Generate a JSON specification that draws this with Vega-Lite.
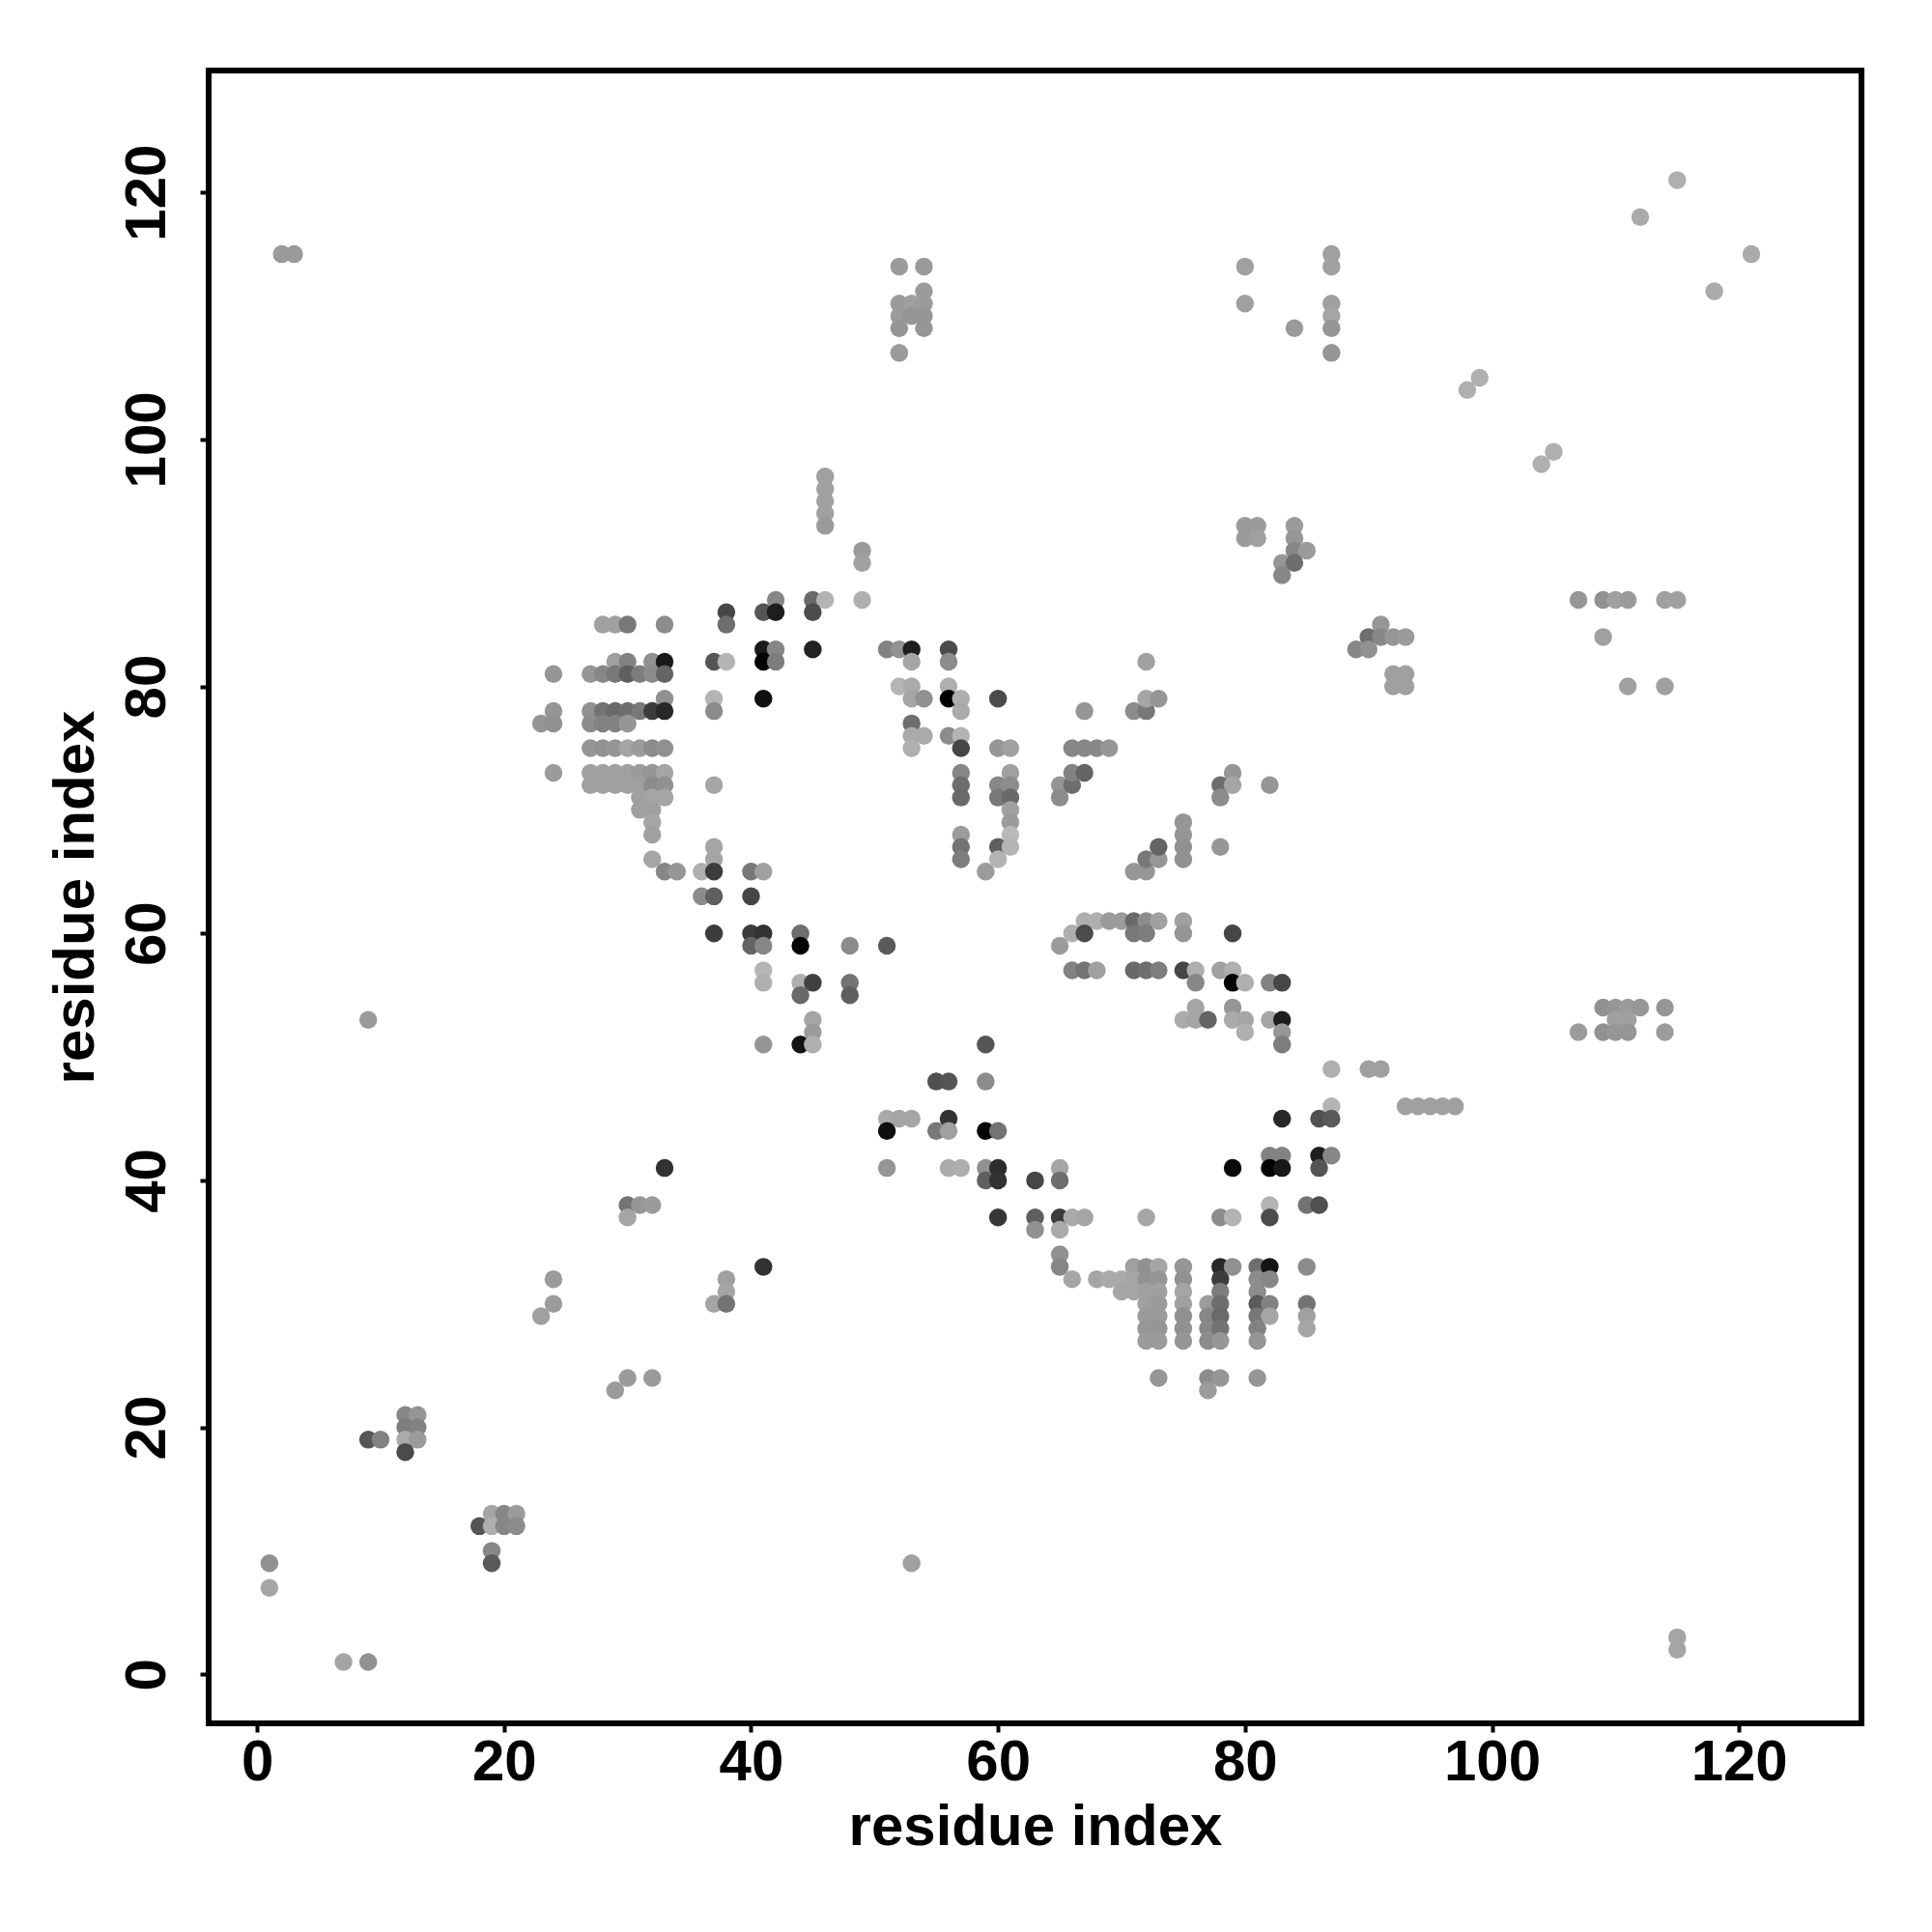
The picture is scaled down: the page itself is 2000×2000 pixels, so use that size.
{"$schema":"https://vega.github.io/schema/vega-lite/v6.json","width":1711,"height":1711,"autosize":"none","padding":{"left":216,"top":73,"right":73,"bottom":216},"background":"white","config":{"view":{"stroke":"black","strokeWidth":6,"fill":"white"}},
"data":{"values":[
{"x":1,"y":9,"s":145},{"x":1,"y":7,"s":165},{"x":7,"y":1,"s":165},{"x":9,"y":1,"s":145},{"x":9,"y":53,"s":155},{"x":2,"y":115,"s":155},{"x":3,"y":115,"s":155},{"x":53,"y":9,"s":160},{"x":115,"y":3,"s":165},{"x":115,"y":2,"s":165},
{"x":9,"y":19,"s":85},{"x":10,"y":19,"s":130},{"x":12,"y":21,"s":135},{"x":13,"y":21,"s":150},{"x":12,"y":20,"s":125},{"x":13,"y":20,"s":130},{"x":12,"y":19,"s":170},{"x":13,"y":19,"s":155},{"x":12,"y":18,"s":75},
{"x":19,"y":13,"s":165},{"x":20,"y":13,"s":135},{"x":21,"y":13,"s":155},{"x":18,"y":12,"s":85},{"x":19,"y":12,"s":175},{"x":20,"y":12,"s":135},{"x":21,"y":12,"s":140},{"x":19,"y":10,"s":135},{"x":19,"y":9,"s":90},
{"x":33,"y":41,"s":50},{"x":30,"y":38,"s":115},{"x":31,"y":38,"s":150},{"x":32,"y":38,"s":155},{"x":30,"y":37,"s":165},{"x":24,"y":32,"s":155},{"x":24,"y":30,"s":155},{"x":23,"y":29,"s":160},{"x":38,"y":32,"s":160},{"x":38,"y":31,"s":165},{"x":37,"y":30,"s":165},{"x":38,"y":30,"s":115},{"x":41,"y":33,"s":50},{"x":30,"y":24,"s":155},{"x":32,"y":24,"s":155},{"x":29,"y":23,"s":155},
{"x":42,"y":87,"s":135},{"x":45,"y":87,"s":105},{"x":46,"y":87,"s":180},{"x":49,"y":87,"s":175},{"x":38,"y":86,"s":70},{"x":41,"y":86,"s":85},{"x":42,"y":86,"s":30},{"x":45,"y":86,"s":75},
{"x":28,"y":85,"s":160},{"x":29,"y":85,"s":160},{"x":30,"y":85,"s":120},{"x":33,"y":85,"s":140},{"x":38,"y":85,"s":110},
{"x":41,"y":83,"s":25},{"x":42,"y":83,"s":135},{"x":45,"y":83,"s":35},{"x":51,"y":83,"s":130},{"x":52,"y":83,"s":145},{"x":53,"y":83,"s":30},{"x":56,"y":83,"s":75},
{"x":29,"y":82,"s":160},{"x":30,"y":82,"s":130},{"x":32,"y":82,"s":145},{"x":33,"y":82,"s":25},{"x":37,"y":82,"s":85},{"x":38,"y":82,"s":180},{"x":41,"y":82,"s":0},{"x":42,"y":82,"s":125},{"x":53,"y":82,"s":165},{"x":56,"y":82,"s":140},
{"x":24,"y":81,"s":150},{"x":27,"y":81,"s":150},{"x":28,"y":81,"s":135},{"x":29,"y":81,"s":120},{"x":30,"y":81,"s":95},{"x":31,"y":81,"s":125},{"x":32,"y":81,"s":140},{"x":33,"y":81,"s":100},
{"x":52,"y":80,"s":180},{"x":53,"y":80,"s":170},{"x":56,"y":80,"s":175},
{"x":33,"y":79,"s":145},{"x":37,"y":79,"s":180},{"x":41,"y":79,"s":15},{"x":53,"y":79,"s":165},{"x":54,"y":79,"s":145},{"x":56,"y":79,"s":0},{"x":57,"y":79,"s":175},{"x":60,"y":79,"s":75},
{"x":24,"y":78,"s":150},{"x":27,"y":78,"s":145},{"x":28,"y":78,"s":115},{"x":29,"y":78,"s":105},{"x":30,"y":78,"s":110},{"x":31,"y":78,"s":120},{"x":32,"y":78,"s":60},{"x":33,"y":78,"s":40},{"x":37,"y":78,"s":140},{"x":57,"y":78,"s":170},
{"x":23,"y":77,"s":150},{"x":24,"y":77,"s":145},{"x":27,"y":77,"s":140},{"x":28,"y":77,"s":130},{"x":29,"y":77,"s":130},{"x":30,"y":77,"s":150},{"x":53,"y":77,"s":110},
{"x":53,"y":76,"s":170},{"x":54,"y":76,"s":170},{"x":56,"y":76,"s":140},{"x":57,"y":76,"s":180},
{"x":27,"y":75,"s":150},{"x":28,"y":75,"s":145},{"x":29,"y":75,"s":150},{"x":30,"y":75,"s":165},{"x":31,"y":75,"s":155},{"x":32,"y":75,"s":140},{"x":33,"y":75,"s":145},{"x":53,"y":75,"s":175},{"x":57,"y":75,"s":70},{"x":60,"y":75,"s":150},{"x":61,"y":75,"s":160},
{"x":24,"y":73,"s":155},{"x":27,"y":73,"s":160},{"x":28,"y":73,"s":160},{"x":29,"y":73,"s":160},{"x":30,"y":73,"s":160},{"x":31,"y":73,"s":155},{"x":32,"y":73,"s":150},{"x":33,"y":73,"s":165},{"x":57,"y":73,"s":135},{"x":61,"y":73,"s":160},
{"x":27,"y":72,"s":160},{"x":28,"y":72,"s":160},{"x":29,"y":72,"s":160},{"x":30,"y":72,"s":160},{"x":31,"y":72,"s":160},{"x":32,"y":72,"s":140},{"x":33,"y":72,"s":145},{"x":37,"y":72,"s":165},{"x":57,"y":72,"s":110},{"x":60,"y":72,"s":135},{"x":61,"y":72,"s":140},{"x":65,"y":72,"s":150},
{"x":31,"y":71,"s":160},{"x":32,"y":71,"s":165},{"x":33,"y":71,"s":165},{"x":57,"y":71,"s":105},{"x":60,"y":71,"s":120},{"x":61,"y":71,"s":105},{"x":65,"y":71,"s":140},
{"x":31,"y":70,"s":160},{"x":32,"y":70,"s":160},{"x":61,"y":70,"s":160},{"x":32,"y":69,"s":165},{"x":61,"y":69,"s":155},{"x":32,"y":68,"s":160},{"x":57,"y":68,"s":155},{"x":61,"y":68,"s":185},
{"x":37,"y":67,"s":165},{"x":57,"y":67,"s":115},{"x":60,"y":67,"s":95},{"x":61,"y":67,"s":180},{"x":32,"y":66,"s":165},{"x":37,"y":66,"s":165},{"x":57,"y":66,"s":125},{"x":60,"y":66,"s":180},
{"x":33,"y":65,"s":135},{"x":34,"y":65,"s":150},{"x":36,"y":65,"s":175},{"x":37,"y":65,"s":60},{"x":40,"y":65,"s":120},{"x":41,"y":65,"s":160},{"x":59,"y":65,"s":155},
{"x":36,"y":63,"s":140},{"x":37,"y":63,"s":95},{"x":40,"y":63,"s":70},
{"x":37,"y":60,"s":60},{"x":40,"y":60,"s":60},{"x":41,"y":60,"s":50},{"x":44,"y":60,"s":110},
{"x":40,"y":59,"s":100},{"x":41,"y":59,"s":135},{"x":44,"y":59,"s":5},{"x":48,"y":59,"s":140},{"x":51,"y":59,"s":90},{"x":65,"y":59,"s":155},
{"x":41,"y":57,"s":180},{"x":41,"y":56,"s":175},{"x":44,"y":56,"s":175},{"x":45,"y":56,"s":65},{"x":48,"y":56,"s":115},{"x":44,"y":55,"s":105},{"x":48,"y":55,"s":95},
{"x":45,"y":53,"s":165},{"x":45,"y":52,"s":155},{"x":41,"y":51,"s":150},{"x":44,"y":51,"s":20},{"x":45,"y":51,"s":175},{"x":59,"y":51,"s":85},
{"x":67,"y":61,"s":175},{"x":68,"y":61,"s":175},{"x":69,"y":61,"s":155},{"x":70,"y":61,"s":155},{"x":71,"y":61,"s":105},{"x":72,"y":61,"s":140},{"x":73,"y":61,"s":160},{"x":75,"y":61,"s":160},
{"x":66,"y":60,"s":175},{"x":67,"y":60,"s":75},{"x":71,"y":60,"s":120},{"x":72,"y":60,"s":125},{"x":75,"y":60,"s":150},{"x":79,"y":60,"s":70},
{"x":66,"y":57,"s":130},{"x":67,"y":57,"s":115},{"x":68,"y":57,"s":160},{"x":71,"y":57,"s":105},{"x":72,"y":57,"s":110},{"x":73,"y":57,"s":125},{"x":75,"y":57,"s":70},{"x":76,"y":57,"s":175},{"x":78,"y":57,"s":160},{"x":79,"y":57,"s":175},
{"x":76,"y":56,"s":135},{"x":79,"y":56,"s":0},{"x":80,"y":56,"s":175},{"x":82,"y":56,"s":130},{"x":83,"y":56,"s":70},
{"x":76,"y":54,"s":165},{"x":79,"y":54,"s":150},{"x":75,"y":53,"s":170},{"x":76,"y":53,"s":165},{"x":77,"y":53,"s":100},{"x":79,"y":53,"s":170},{"x":80,"y":53,"s":165},{"x":82,"y":53,"s":165},{"x":83,"y":53,"s":30},
{"x":80,"y":52,"s":175},{"x":83,"y":52,"s":150},{"x":83,"y":51,"s":125},{"x":87,"y":49,"s":175},{"x":90,"y":49,"s":160},{"x":91,"y":49,"s":160},{"x":59,"y":48,"s":140},{"x":55,"y":48,"s":80},{"x":56,"y":48,"s":85},
{"x":87,"y":46,"s":180},{"x":93,"y":46,"s":160},{"x":94,"y":46,"s":160},{"x":95,"y":46,"s":160},{"x":96,"y":46,"s":160},{"x":97,"y":46,"s":160},
{"x":51,"y":45,"s":170},{"x":52,"y":45,"s":165},{"x":53,"y":45,"s":165},{"x":56,"y":45,"s":50},{"x":83,"y":45,"s":40},{"x":86,"y":45,"s":80},{"x":87,"y":45,"s":90},
{"x":51,"y":44,"s":15},{"x":55,"y":44,"s":120},{"x":56,"y":44,"s":160},{"x":59,"y":44,"s":5},{"x":60,"y":44,"s":115},
{"x":82,"y":42,"s":130},{"x":83,"y":42,"s":130},{"x":86,"y":42,"s":30},{"x":87,"y":42,"s":135},
{"x":51,"y":41,"s":150},{"x":56,"y":41,"s":170},{"x":57,"y":41,"s":175},{"x":59,"y":41,"s":145},{"x":60,"y":41,"s":45},{"x":65,"y":41,"s":165},{"x":79,"y":41,"s":10},{"x":82,"y":41,"s":0},{"x":83,"y":41,"s":25},{"x":86,"y":41,"s":85},
{"x":59,"y":40,"s":95},{"x":60,"y":40,"s":50},{"x":63,"y":40,"s":70},{"x":65,"y":40,"s":110},
{"x":82,"y":38,"s":180},{"x":85,"y":38,"s":115},{"x":86,"y":38,"s":80},
{"x":60,"y":37,"s":55},{"x":63,"y":37,"s":95},{"x":65,"y":37,"s":60},{"x":66,"y":37,"s":170},{"x":67,"y":37,"s":165},{"x":72,"y":37,"s":165},{"x":78,"y":37,"s":140},{"x":79,"y":37,"s":180},{"x":82,"y":37,"s":75},
{"x":63,"y":36,"s":145},{"x":65,"y":36,"s":170},{"x":65,"y":34,"s":145},
{"x":65,"y":33,"s":135},{"x":71,"y":33,"s":160},{"x":72,"y":33,"s":145},{"x":73,"y":33,"s":165},{"x":75,"y":33,"s":150},{"x":78,"y":33,"s":40},{"x":79,"y":33,"s":145},{"x":81,"y":33,"s":110},{"x":82,"y":33,"s":20},{"x":85,"y":33,"s":140},
{"x":66,"y":32,"s":165},{"x":68,"y":32,"s":165},{"x":69,"y":32,"s":170},{"x":70,"y":32,"s":170},{"x":71,"y":32,"s":165},{"x":72,"y":32,"s":145},{"x":73,"y":32,"s":150},{"x":75,"y":32,"s":145},{"x":78,"y":32,"s":60},{"x":81,"y":32,"s":140},{"x":82,"y":32,"s":135},
{"x":70,"y":31,"s":165},{"x":71,"y":31,"s":165},{"x":72,"y":31,"s":160},{"x":73,"y":31,"s":160},{"x":75,"y":31,"s":165},{"x":78,"y":31,"s":125},{"x":81,"y":31,"s":140},
{"x":72,"y":30,"s":160},{"x":73,"y":30,"s":155},{"x":75,"y":30,"s":160},{"x":77,"y":30,"s":155},{"x":78,"y":30,"s":110},{"x":81,"y":30,"s":90},{"x":82,"y":30,"s":130},{"x":85,"y":30,"s":115},
{"x":72,"y":29,"s":155},{"x":73,"y":29,"s":155},{"x":75,"y":29,"s":145},{"x":77,"y":29,"s":135},{"x":78,"y":29,"s":105},{"x":81,"y":29,"s":120},{"x":82,"y":29,"s":165},{"x":85,"y":29,"s":160},
{"x":72,"y":28,"s":150},{"x":73,"y":28,"s":150},{"x":75,"y":28,"s":145},{"x":77,"y":28,"s":135},{"x":78,"y":28,"s":115},{"x":81,"y":28,"s":130},{"x":85,"y":28,"s":165},
{"x":72,"y":27,"s":155},{"x":73,"y":27,"s":155},{"x":75,"y":27,"s":150},{"x":77,"y":27,"s":140},{"x":78,"y":27,"s":150},{"x":81,"y":27,"s":150},
{"x":73,"y":24,"s":150},{"x":77,"y":24,"s":140},{"x":78,"y":24,"s":150},{"x":81,"y":24,"s":150},{"x":77,"y":23,"s":155},
{"x":46,"y":97,"s":160},{"x":46,"y":96,"s":160},{"x":46,"y":95,"s":160},{"x":46,"y":94,"s":160},{"x":46,"y":93,"s":155},{"x":49,"y":91,"s":155},{"x":49,"y":90,"s":160},
{"x":52,"y":114,"s":155},{"x":54,"y":114,"s":155},{"x":54,"y":112,"s":155},{"x":52,"y":111,"s":155},{"x":53,"y":111,"s":160},{"x":54,"y":111,"s":155},{"x":52,"y":110,"s":155},{"x":53,"y":110,"s":150},{"x":54,"y":110,"s":150},{"x":52,"y":109,"s":150},{"x":54,"y":109,"s":150},{"x":52,"y":107,"s":155},
{"x":80,"y":114,"s":160},{"x":80,"y":111,"s":160},{"x":84,"y":109,"s":155},{"x":87,"y":115,"s":160},{"x":87,"y":114,"s":160},{"x":87,"y":111,"s":160},{"x":87,"y":110,"s":165},{"x":87,"y":109,"s":150},{"x":87,"y":107,"s":150},
{"x":80,"y":93,"s":155},{"x":81,"y":93,"s":155},{"x":80,"y":92,"s":155},{"x":81,"y":92,"s":160},{"x":84,"y":93,"s":155},{"x":84,"y":92,"s":150},{"x":84,"y":91,"s":135},{"x":85,"y":91,"s":155},{"x":83,"y":90,"s":150},{"x":84,"y":90,"s":110},{"x":83,"y":89,"s":135},
{"x":115,"y":121,"s":175},{"x":112,"y":118,"s":170},{"x":121,"y":115,"s":170},{"x":118,"y":112,"s":170},{"x":99,"y":105,"s":175},{"x":98,"y":104,"s":175},{"x":105,"y":99,"s":175},{"x":104,"y":98,"s":175},
{"x":107,"y":87,"s":150},{"x":109,"y":87,"s":145},{"x":110,"y":87,"s":160},{"x":111,"y":87,"s":155},{"x":114,"y":87,"s":160},{"x":115,"y":87,"s":160},{"x":109,"y":84,"s":160},{"x":111,"y":80,"s":160},{"x":114,"y":80,"s":160},
{"x":91,"y":85,"s":150},{"x":90,"y":84,"s":110},{"x":91,"y":84,"s":135},{"x":92,"y":84,"s":150},{"x":93,"y":84,"s":155},{"x":89,"y":83,"s":135},{"x":90,"y":83,"s":145},{"x":92,"y":81,"s":160},{"x":93,"y":81,"s":160},{"x":92,"y":80,"s":160},{"x":93,"y":80,"s":160},
{"x":109,"y":54,"s":145},{"x":110,"y":54,"s":150},{"x":111,"y":54,"s":155},{"x":112,"y":54,"s":150},{"x":114,"y":54,"s":150},{"x":110,"y":53,"s":160},{"x":111,"y":53,"s":160},{"x":107,"y":52,"s":155},{"x":109,"y":52,"s":145},{"x":110,"y":52,"s":150},{"x":111,"y":52,"s":150},{"x":114,"y":52,"s":155},
{"x":79,"y":73,"s":150},{"x":78,"y":72,"s":110},{"x":79,"y":72,"s":165},{"x":78,"y":71,"s":140},{"x":82,"y":72,"s":150},{"x":78,"y":67,"s":150},
{"x":66,"y":72,"s":110},{"x":66,"y":73,"s":130},{"x":67,"y":73,"s":100},{"x":66,"y":75,"s":135},{"x":67,"y":75,"s":135},{"x":68,"y":75,"s":135},{"x":69,"y":75,"s":150},{"x":67,"y":78,"s":150},{"x":71,"y":78,"s":140},{"x":72,"y":78,"s":120},{"x":72,"y":79,"s":165},{"x":73,"y":79,"s":150},{"x":72,"y":82,"s":160},
{"x":71,"y":65,"s":150},{"x":72,"y":65,"s":150},{"x":72,"y":66,"s":120},{"x":73,"y":66,"s":150},{"x":73,"y":67,"s":100},{"x":75,"y":69,"s":150},{"x":75,"y":68,"s":150},{"x":75,"y":67,"s":145},{"x":75,"y":66,"s":145}
]},
"mark":{"type":"circle","size":342,"opacity":1,"stroke":null},
"encoding":{
"x":{"field":"x","type":"quantitative","scale":{"domain":[-3.92,129.92],"nice":false,"zero":false},"axis":{"title":"residue index","grid":false,"domain":false,"values":[0,20,40,60,80,100,120],"tickColor":"black","tickWidth":4,"tickSize":9,"labelColor":"black","labelFont":"Liberation Sans","labelFontWeight":"bold","labelFontSize":60,"labelPadding":2,"labelFlush":false,"titleColor":"black","titleFont":"Liberation Sans","titleFontWeight":"bold","titleFontSize":60,"titlePadding":8}},
"y":{"field":"y","type":"quantitative","scale":{"domain":[-3.97,129.87],"nice":false,"zero":false},"axis":{"title":"residue index","grid":false,"domain":false,"values":[0,20,40,60,80,100,120],"tickColor":"black","tickWidth":4,"tickSize":9,"labelColor":"black","labelFont":"Liberation Sans","labelFontWeight":"bold","labelFontSize":60,"labelAngle":270,"labelAlign":"center","labelBaseline":"alphabetic","labelPadding":37,"labelFlush":false,"titleColor":"black","titleFont":"Liberation Sans","titleFontWeight":"bold","titleFontSize":60,"titlePadding":13}},
"color":{"field":"s","type":"quantitative","scale":{"domain":[0,255],"range":["#000000","#ffffff"],"interpolate":"rgb"},"legend":null},
"order":[{"field":"x","type":"quantitative"},{"field":"y","type":"quantitative"}]
}}
